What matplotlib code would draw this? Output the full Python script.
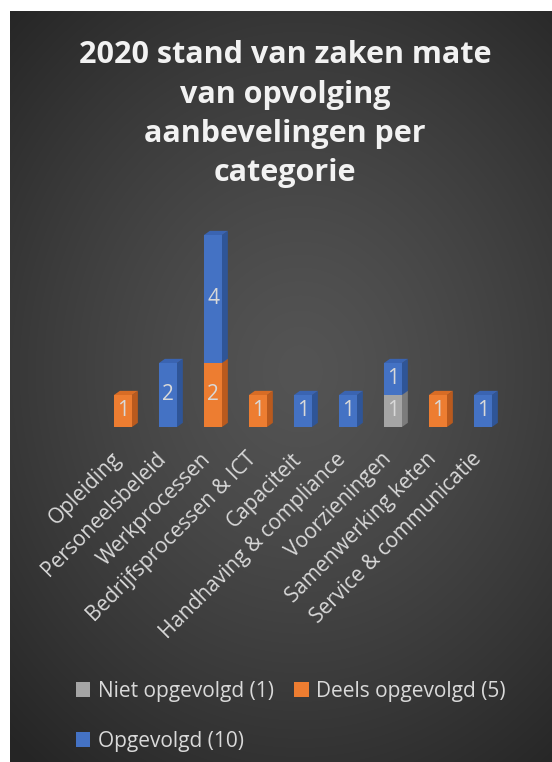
import numpy as np
import matplotlib.pyplot as plt
from matplotlib.patches import Polygon, Patch
from matplotlib.transforms import ScaledTranslation

# data
categories = ["Opleiding", "Personeelsbeleid", "Werkprocessen", "Bedrijfsprocessen & ICT",
              "Capaciteit", "Handhaving & compliance", "Voorzieningen",
              "Samenwerking keten", "Service & communicatie"]
niet_opgevolgd = [0, 0, 0, 0, 0, 0, 1, 0, 0]
deels_opgevolgd = [1, 0, 2, 1, 0, 0, 0, 1, 0]
opgevolgd = [0, 2, 4, 0, 1, 1, 1, 0, 1]
series_names = ["Niet opgevolgd (1)", "Deels opgevolgd (5)", "Opgevolgd (10)"]
title_lines = ["2020 stand van zaken mate", "van opvolging", "aanbevelingen per", "categorie"]

# front, side, top colours per series
colors = [("#A5A5A5", "#7C7C7C", "#949494"),
          ("#ED7D31", "#B95A1E", "#D86C25"),
          ("#4472C4", "#2F5597", "#3A64B2")]
text_color = "#D9D9D9"

plt.rcParams['font.family'] = ['Open Sans', 'DejaVu Sans']

W, H = 552, 762
fig = plt.figure(figsize=(W / 100, H / 100), dpi=100)
fig.patch.set_facecolor('white')

# dark panel with radial gradient
px0, py0 = 10, 11
bg = fig.add_axes([px0 / W, 0, (W - px0) / W, (H - py0) / H])
pw, ph = W - px0, H - py0
yy, xx = np.mgrid[0:ph, 0:pw]
r = np.sqrt((xx - 290) ** 2 + ((yy - 360) * 0.85) ** 2) / 430
shade = np.clip(0x54 - (0x54 - 0x25) * r ** 1.3, 0x25, 0x54) / 255
bg.imshow(np.dstack([shade, shade, shade]), aspect='auto', extent=[0, 1, 0, 1],
          interpolation='bilinear')
bg.axis('off')

# title
for k, line in enumerate(title_lines):
    fig.text(285 / W, 1 - (63 + 39.5 * k) / H, line, ha='center', va='baseline',
             fontsize=22, fontweight='bold', color='#F2F2F2')

# plot area: baseline at y=427 px, 32 px per unit, bar centres 123..483 px
ax = fig.add_axes([100.5 / W, (H - 427) / H, 405 / W, 6.5 * 32 / H])
ax.set_xlim(-0.5, 8.5)
ax.set_ylim(0, 6.5)
ax.patch.set_alpha(0)
for s in ax.spines.values():
    s.set_visible(False)

width = 0.4
dx, dy = 0.13, 0.13
x = np.arange(len(categories))
bottom = np.zeros(len(categories))
for vals, (front, side, top) in zip([niet_opgevolgd, deels_opgevolgd, opgevolgd], colors):
    vals = np.array(vals, dtype=float)
    ax.bar(x, vals, width, bottom=bottom, color=front, zorder=3)
    for i in x:
        v = vals[i]
        if v <= 0:
            continue
        b = bottom[i]
        x0, x1 = i - width / 2, i + width / 2
        ax.add_patch(Polygon([(x1, b), (x1 + dx, b + dy), (x1 + dx, b + v + dy), (x1, b + v)],
                             closed=True, facecolor=side, edgecolor='none', zorder=2))
        ax.add_patch(Polygon([(x0, b + v), (x0 + dx, b + v + dy), (x1 + dx, b + v + dy), (x1, b + v)],
                             closed=True, facecolor=top, edgecolor='none', zorder=2))
        ax.text(i, b + v / 2, f"{int(v)}", ha='center', va='center', fontsize=15,
                color=text_color, zorder=4)
    bottom += vals

ax.set_yticks([])
ax.set_xticks(x)
ax.set_xticklabels(categories, rotation=45, ha='right', va='center',
                   rotation_mode='anchor', fontsize=15, color=text_color)
ax.tick_params(axis='x', length=0, pad=18)
shift = ScaledTranslation(-0.05, -0.04, fig.dpi_scale_trans)
for lbl in ax.get_xticklabels():
    lbl.set_transform(lbl.get_transform() + shift)

# legend (row-wise order)
handles = [Patch(facecolor=c[0]) for c in colors]
order = [0, 2, 1]
fig.legend([handles[i] for i in order], [series_names[i] for i in order],
           loc='upper left', bbox_to_anchor=(57 / W, 1 - 662 / H), ncol=2,
           frameon=False, fontsize=15, labelcolor=text_color,
           handlelength=0.7, handleheight=0.7, handletextpad=0.35,
           columnspacing=1.0, labelspacing=1.4)

fig.savefig("out.png", dpi=100)
